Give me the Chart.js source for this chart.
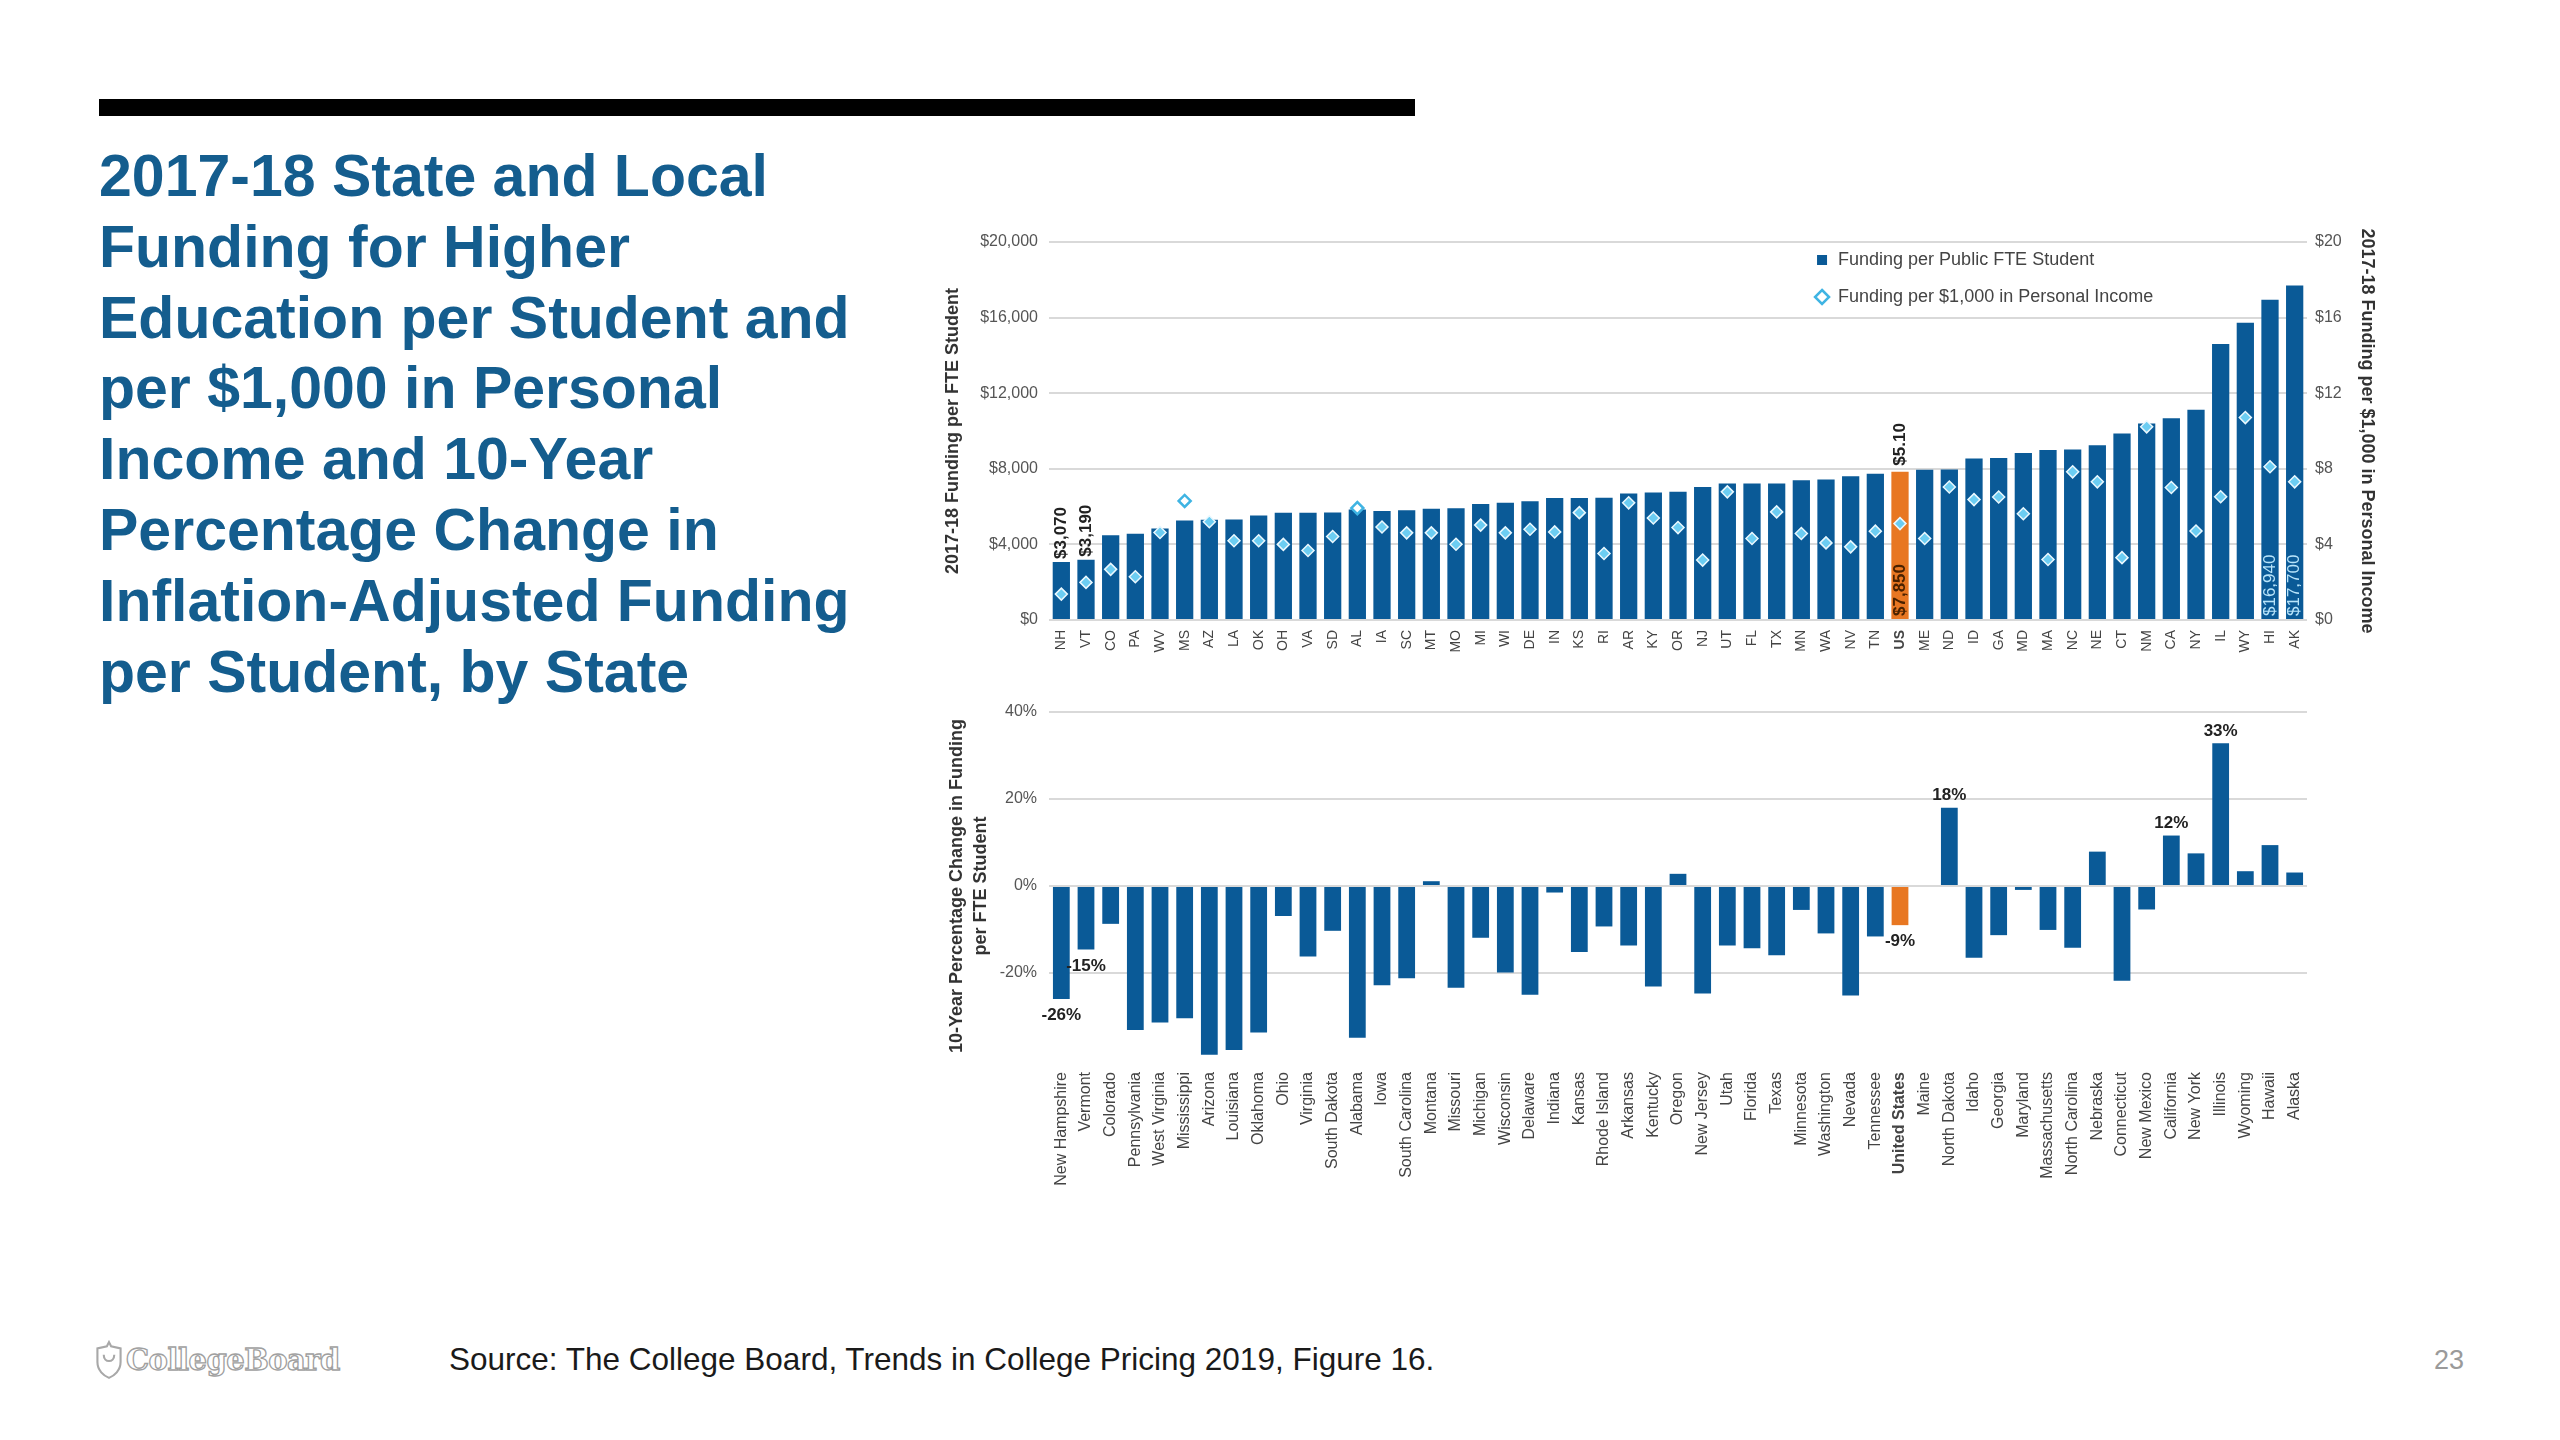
<!DOCTYPE html>
<html>
<head>
<meta charset="utf-8">
<title>State and Local Funding for Higher Education</title>
<script src="https://cdn.jsdelivr.net/npm/chart.js@4.4.1/dist/chart.umd.min.js"></script>
<style>
  html, body { margin: 0; padding: 0; background: #fff; }
  body { width: 2560px; height: 1440px; position: relative; overflow: hidden; font-family: "Liberation Sans", Arial, sans-serif; }
  .topbar { position: absolute; left: 99px; top: 99px; width: 1316px; height: 17px; background: #000; }
  .title { position: absolute; left: 99px; top: 141px; margin: 0; font-size: 59px; line-height: 70.8px; font-weight: bold; color: #145d8e; }
  #topChart { position: absolute; left: 930px; top: 200px; }
  #bottomChart { position: absolute; left: 930px; top: 690px; }
  .logo { position: absolute; left: 94px; top: 1340px; height: 40px; display: flex; align-items: center; }
  .logo span { font-family: "DejaVu Serif", serif; font-weight: bold; font-size: 29px; color: #fff; -webkit-text-stroke: 1.3px #a0a0a0; margin-left: 2px; letter-spacing: -0.5px; }
  .source { position: absolute; left: 449px; top: 1341px; font-size: 31.5px; color: #1a1a1a; }
  .page { position: absolute; left: 2434px; top: 1345px; font-size: 27px; color: #9a9a9a; }
</style>
</head>
<body>
<div class="topbar"></div>
<h1 class="title">2017-18 State and Local<br>Funding for Higher<br>Education per Student and<br>per $1,000 in Personal<br>Income and 10-Year<br>Percentage Change in<br>Inflation-Adjusted Funding<br>per Student, by State</h1>

<canvas id="topChart" width="1480" height="480"></canvas>
<canvas id="bottomChart" width="1480" height="520"></canvas>

<div class="logo">
  <svg width="30" height="40" viewBox="0 0 28 38"><path d="M14 2 L16 6 L25 8 L25 21 C25 29 19 34 14 36 C9 34 3 29 3 21 L3 8 L12 6 Z M9 14 C9 22 19 22 19 14" fill="none" stroke="#a8a8a8" stroke-width="2"/></svg>
  <span>CollegeBoard</span>
</div>
<div class="source">Source: The College Board, Trends in College Pricing 2019, Figure 16.</div>
<div class="page">23</div>

<script>
// states sorted by funding per FTE student, US average in the middle
var states = ['NH','VT','CO','PA','WV','MS','AZ','LA','OK','OH','VA','SD','AL','IA','SC','MT','MO','MI','WI','DE',
  'IN','KS','RI','AR','KY','OR','NJ','UT','FL','TX','MN','WA','NV','TN','US','ME','ND','ID','GA','MD',
  'MA','NC','NE','CT','NM','CA','NY','IL','WY','HI','AK'];
var stateNames = ['New Hampshire','Vermont','Colorado','Pennsylvania','West Virginia','Mississippi','Arizona','Louisiana',
  'Oklahoma','Ohio','Virginia','South Dakota','Alabama','Iowa','South Carolina','Montana','Missouri','Michigan',
  'Wisconsin','Delaware','Indiana','Kansas','Rhode Island','Arkansas','Kentucky','Oregon','New Jersey','Utah',
  'Florida','Texas','Minnesota','Washington','Nevada','Tennessee','United States','Maine','North Dakota','Idaho',
  'Georgia','Maryland','Massachusetts','North Carolina','Nebraska','Connecticut','New Mexico','California',
  'New York','Illinois','Wyoming','Hawaii','Alaska'];

// 2017-18 funding per public FTE student ($)
var funding = [3070,3190,4480,4560,4840,5260,5300,5320,5530,5670,5680,5690,5850,5770,5810,5880,5910,6140,6200,6280,
  6460,6460,6470,6690,6740,6780,7040,7220,7220,7220,7390,7430,7600,7740,7850,7950,7960,8540,8570,8830,
  8990,9020,9240,9870,10400,10670,11130,14600,15730,16940,17700];
// funding per $1,000 in personal income ($)
var incomeShare = [1.37,1.99,2.68,2.29,4.63,6.30,5.20,4.19,4.19,4.00,3.68,4.42,5.92,4.92,4.61,4.61,4.01,5.02,4.61,4.80,
  4.66,5.68,3.52,6.20,5.40,4.89,3.17,6.78,4.31,5.72,4.58,4.08,3.87,4.70,5.10,4.31,7.04,6.37,6.51,5.62,
  3.20,7.84,7.31,3.30,10.22,7.01,4.71,6.52,10.71,8.11,7.31];
// 10-year % change in inflation-adjusted funding per FTE student
var pctChange = [-26,-14.6,-8.7,-33.1,-31.4,-30.4,-38.8,-37.7,-33.7,-6.9,-16.2,-10.3,-34.9,-22.8,-21.2,1.1,-23.4,-11.9,-19.9,-25.0,
  -1.5,-15.2,-9.3,-13.7,-23.1,2.8,-24.7,-13.7,-14.3,-15.9,-5.5,-10.9,-25.2,-11.6,-9,0,18,-16.5,-11.3,-0.9,
  -10.1,-14.2,7.9,-21.8,-5.4,11.6,7.5,32.8,3.4,9.4,3.1];

var fundingTicks = [0,4000,8000,12000,16000,20000];
var incomeTicks = [0,4,8,12,16,20];
var pctTicks = [-20,0,20,40];

// which values get printed on the chart
var fundingAbove = ['NH','VT'];
var fundingInside = ['US','HI','AK'];
var incomeAbove = ['US'];
var pctLabeled = ['NH','VT','US','ND','CA','IL'];

var BLUE = '#0a5a97', ORANGE = '#e87722', CYAN = '#6ccdf2';
var FONT = '"Liberation Sans", Arial, sans-serif';

function money(v) { return '$' + v.toLocaleString('en-US'); }
function isAbove(i) { return incomeShare[i] * 1000 > funding[i]; }

function rotText(ctx, text, x, y, color) {
  ctx.save();
  ctx.translate(x, y);
  ctx.rotate(-Math.PI / 2);
  ctx.fillStyle = color;
  ctx.textAlign = 'left';
  ctx.textBaseline = 'middle';
  ctx.fillText(text, 0, 0);
  ctx.restore();
}

var topLabels = {
  id: 'topLabels',
  afterDatasetsDraw: function(chart) {
    var ctx = chart.ctx;
    var bars = chart.getDatasetMeta(1).data;
    ctx.font = 'bold 17px ' + FONT;
    fundingAbove.forEach(function(s) {
      var i = states.indexOf(s);
      rotText(ctx, money(funding[i]), bars[i].x, bars[i].y - 3, '#222');
    });
    incomeAbove.forEach(function(s) {
      var i = states.indexOf(s);
      rotText(ctx, '$' + incomeShare[i].toFixed(2), bars[i].x, bars[i].y - 6, '#222');
    });
    fundingInside.forEach(function(s) {
      var i = states.indexOf(s);
      ctx.font = (s === 'US' ? 'bold ' : '') + '17px ' + FONT;
      rotText(ctx, money(funding[i]), bars[i].x, bars[i].base - 3, s === 'US' ? '#4a2200' : '#b8e4fa');
    });
  },
  afterDraw: function(chart) {
    var ctx = chart.ctx, a = chart.chartArea;
    var lx = a.left + 0.6145 * (a.right - a.left);
    var ly1 = a.top + 18, ly2 = a.top + 55;
    ctx.save();
    ctx.fillStyle = BLUE;
    ctx.fillRect(lx - 5, ly1 - 5, 10, 10);
    ctx.beginPath();
    ctx.moveTo(lx, ly2 - 7); ctx.lineTo(lx + 7, ly2); ctx.lineTo(lx, ly2 + 7); ctx.lineTo(lx - 7, ly2); ctx.closePath();
    ctx.fillStyle = '#fff'; ctx.fill();
    ctx.lineWidth = 2.5; ctx.strokeStyle = '#3fb4e3'; ctx.stroke();
    ctx.fillStyle = '#444';
    ctx.font = '18px ' + FONT;
    ctx.textAlign = 'left';
    ctx.textBaseline = 'middle';
    ctx.fillText('Funding per Public FTE Student', lx + 16, ly1);
    ctx.fillText('Funding per $1,000 in Personal Income', lx + 16, ly2);
    ctx.restore();
  }
};

var bottomLabels = {
  id: 'bottomLabels',
  afterDatasetsDraw: function(chart) {
    var ctx = chart.ctx;
    var bars = chart.getDatasetMeta(0).data;
    ctx.save();
    ctx.font = 'bold 17px ' + FONT;
    ctx.fillStyle = '#222';
    ctx.textAlign = 'center';
    pctLabeled.forEach(function(s) {
      var i = states.indexOf(s), b = bars[i];
      var txt = Math.round(pctChange[i]) + '%';
      if (pctChange[i] < 0) {
        ctx.textBaseline = 'top';
        ctx.fillText(txt, b.x, b.y + 8);
      } else {
        ctx.textBaseline = 'bottom';
        ctx.fillText(txt, b.x, b.y - 4);
      }
    });
    ctx.restore();
  }
};

var barColors = states.map(function(s) { return s === 'US' ? ORANGE : BLUE; });

new Chart(document.getElementById('topChart'), {
  type: 'bar',
  data: {
    labels: states,
    datasets: [
      {
        type: 'line',
        label: 'Funding per $1,000 in Personal Income',
        data: incomeShare,
        yAxisID: 'y1',
        showLine: false,
        pointStyle: 'rectRot',
        pointRadius: 6,
        pointBackgroundColor: function(c) { return isAbove(c.dataIndex) ? '#ffffff' : CYAN; },
        pointBorderColor: function(c) { return isAbove(c.dataIndex) ? '#3fb4e3' : '#eaf8fe'; },
        pointBorderWidth: function(c) { return isAbove(c.dataIndex) ? 2.5 : 1.5; },
        order: 0
      },
      {
        type: 'bar',
        label: 'Funding per Public FTE Student',
        data: funding,
        yAxisID: 'y',
        backgroundColor: barColors,
        barPercentage: 0.7,
        categoryPercentage: 1,
        order: 1
      }
    ]
  },
  options: {
    responsive: false,
    devicePixelRatio: 1,
    animation: false,
    layout: { padding: { top: 42, right: 0, bottom: 0, left: 0 } },
    plugins: { legend: { display: false }, tooltip: { enabled: false } },
    scales: {
      x: {
        grid: { display: false, drawTicks: false },
        border: { display: false },
        ticks: {
          autoSkip: false, minRotation: 90, maxRotation: 90, padding: 10, color: '#444',
          font: function(c) { return { family: FONT, size: 14, weight: c.tick && c.tick.label === 'US' ? 'bold' : 'normal' }; }
        },
        afterFit: function(s) { s.height = 60; }
      },
      y: {
        position: 'left', min: 0, max: 20000,
        afterBuildTicks: function(s) { s.ticks = fundingTicks.map(function(v) { return { value: v }; }); },
        grid: { color: '#d9d9d9', lineWidth: 2, drawTicks: false },
        border: { display: false },
        ticks: { padding: 11, color: '#555', font: { family: FONT, size: 16 }, callback: function(v) { return money(v); } },
        title: { display: true, text: '2017-18 Funding per FTE Student', color: '#333',
          font: { family: FONT, size: 18, weight: 'bold' }, padding: { top: 12, bottom: 0 } },
        afterFit: function(s) { s.width = 119; }
      },
      y1: {
        position: 'right', min: 0, max: 20,
        afterBuildTicks: function(s) { s.ticks = incomeTicks.map(function(v) { return { value: v }; }); },
        grid: { display: false, drawTicks: false },
        border: { display: false },
        ticks: { padding: 8, color: '#555', font: { family: FONT, size: 16 }, callback: function(v) { return '$' + v; } },
        title: { display: true, text: '2017-18 Funding per $1,000 in Personal Income', color: '#333',
          font: { family: FONT, size: 18, weight: 'bold' }, padding: { top: 32, bottom: 0 } },
        afterFit: function(s) { s.width = 103; }
      }
    }
  },
  plugins: [topLabels]
});

new Chart(document.getElementById('bottomChart'), {
  type: 'bar',
  data: {
    labels: stateNames,
    datasets: [{
      label: '10-Year Percentage Change',
      data: pctChange,
      backgroundColor: barColors,
      barPercentage: 0.68,
      categoryPercentage: 1
    }]
  },
  options: {
    responsive: false,
    devicePixelRatio: 1,
    animation: false,
    layout: { padding: { top: 22, right: 103, bottom: 0, left: 0 } },
    plugins: { legend: { display: false }, tooltip: { enabled: false } },
    scales: {
      x: {
        grid: { display: false, drawTicks: false },
        border: { display: false },
        ticks: {
          autoSkip: false, minRotation: 90, maxRotation: 90, padding: 12, color: '#444',
          font: function(c) { return { family: FONT, size: 16, weight: c.tick && c.tick.label === 'United States' ? 'bold' : 'normal' }; }
        },
        afterFit: function(s) { s.height = 150; }
      },
      y: {
        min: -40, max: 40,
        afterBuildTicks: function(s) { s.ticks = pctTicks.map(function(v) { return { value: v }; }); },
        grid: { color: '#d9d9d9', lineWidth: 2, drawTicks: false },
        border: { display: false },
        ticks: { padding: 12, color: '#555', font: { family: FONT, size: 16 }, callback: function(v) { return v + '%'; } },
        title: { display: true, text: ['10-Year Percentage Change in Funding', 'per FTE Student'], color: '#333',
          font: { family: FONT, size: 18, weight: 'bold', lineHeight: 1.33 }, padding: { top: 15, bottom: 0 } },
        afterFit: function(s) { s.width = 119; }
      }
    }
  },
  plugins: [bottomLabels]
});
</script>
</body>
</html>
